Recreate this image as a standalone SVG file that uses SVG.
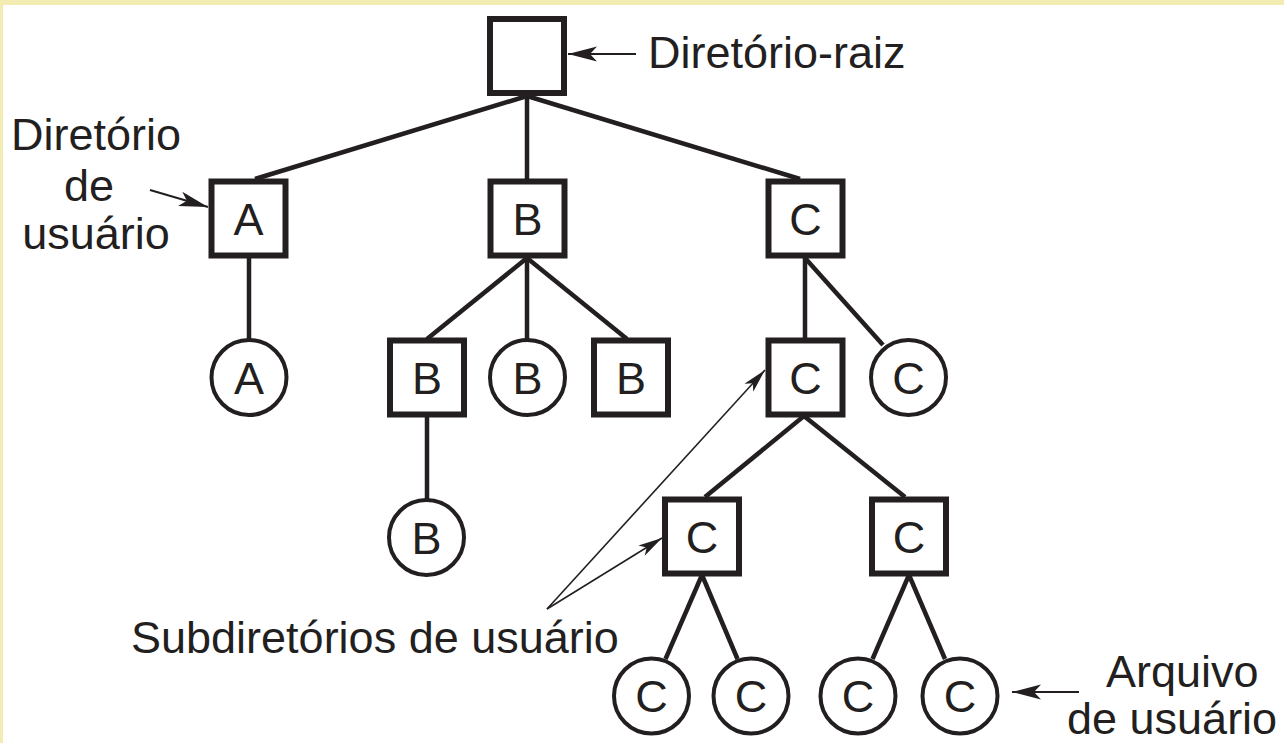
<svg xmlns="http://www.w3.org/2000/svg" width="1284" height="743" viewBox="0 0 1284 743">
<defs>
<style>
.sq{fill:#fff;stroke:#231f20;stroke-width:6}
.ci{fill:#fff;stroke:#231f20;stroke-width:4}
.lt{font-family:"Liberation Sans",Arial,sans-serif;font-size:45px;fill:#231f20;text-anchor:middle}
.lb{font-family:"Liberation Sans",Arial,sans-serif;font-size:45px;fill:#231f20}
.ed{stroke:#231f20;stroke-width:4.5;fill:none;stroke-linecap:butt}
.ar{stroke:#231f20;stroke-width:2;fill:none}
.ar2{stroke:#231f20;stroke-width:1.6;fill:none}
</style>
<marker id="ah" markerUnits="userSpaceOnUse" markerWidth="40" markerHeight="20" viewBox="-30 -10 32 20" refX="0" refY="0" orient="auto">
<path d="M0,0 L-29,-7.5 L-22,0 L-29,7.5 Z" fill="#231f20"/>
</marker>
<marker id="ah2" markerUnits="userSpaceOnUse" markerWidth="40" markerHeight="20" viewBox="-30 -10 32 20" refX="0" refY="0" orient="auto">
<path d="M0,0 L-24,-6 L-18,0 L-24,6 Z" fill="#231f20"/>
</marker>
</defs>
<rect x="0" y="0" width="1284" height="743" fill="#fff"/>
<rect x="0" y="0" width="1284" height="5" fill="#f2ecb3"/>
<rect x="0" y="0" width="3" height="743" fill="#f2ecb3"/>

<g id="connectors">
<line class="ed" x1="527" y1="96" x2="255" y2="179"/>
<line class="ed" x1="527" y1="96" x2="527" y2="179"/>
<line class="ed" x1="527" y1="96" x2="800" y2="179"/>
<line class="ed" x1="249" y1="258" x2="249" y2="339"/>
<line class="ed" x1="527" y1="258" x2="427" y2="339"/>
<line class="ed" x1="527" y1="258" x2="527" y2="339"/>
<line class="ed" x1="527" y1="258" x2="627" y2="339"/>
<line class="ed" x1="427" y1="416" x2="427" y2="499"/>
<line class="ed" x1="805" y1="258" x2="805" y2="339"/>
<line class="ed" x1="805" y1="258" x2="883" y2="345"/>
<line class="ed" x1="804" y1="416" x2="705" y2="497"/>
<line class="ed" x1="804" y1="416" x2="905" y2="497"/>
<line class="ed" x1="702" y1="575" x2="665.5" y2="659"/>
<line class="ed" x1="702" y1="575" x2="737.5" y2="659"/>
<line class="ed" x1="909" y1="575" x2="872.5" y2="659"/>
<line class="ed" x1="909" y1="575" x2="945" y2="659"/>
<line class="ar" x1="636" y1="54" x2="568" y2="54" marker-end="url(#ah)"/>
<line class="ar" x1="150" y1="190" x2="208" y2="207" marker-end="url(#ah)"/>
<line class="ar" x1="1079" y1="692" x2="1012" y2="692" marker-end="url(#ah)"/>
<line class="ar2" x1="547" y1="609" x2="765" y2="370" marker-end="url(#ah2)"/>
<line class="ar2" x1="547" y1="609" x2="662" y2="538" marker-end="url(#ah2)"/>
</g>

<g id="root"><rect class="sq" x="490" y="19" width="74" height="74"/></g>
<g id="dirA"><rect class="sq" x="211.5" y="181.5" width="74" height="74"/><text class="lt" x="248.5" y="234.5">A</text></g>
<g id="dirB"><rect class="sq" x="490.5" y="181.5" width="74" height="74"/><text class="lt" x="527.5" y="234.5">B</text></g>
<g id="dirC"><rect class="sq" x="768.5" y="181.5" width="74" height="74"/><text class="lt" x="805.5" y="234.5">C</text></g>

<g id="fileA"><circle class="ci" cx="249" cy="377.5" r="37.5"/><text class="lt" x="249" y="393.5">A</text></g>
<g id="subB1"><rect class="sq" x="390" y="340.5" width="74" height="74"/><text class="lt" x="427" y="393.5">B</text></g>
<g id="fileB1"><circle class="ci" cx="527.5" cy="377.5" r="37.5"/><text class="lt" x="527.5" y="393.5">B</text></g>
<g id="subB2"><rect class="sq" x="594" y="340.5" width="74" height="74"/><text class="lt" x="631" y="393.5">B</text></g>
<g id="fileB2"><circle class="ci" cx="426.5" cy="537.5" r="37.5"/><text class="lt" x="426.5" y="553.5">B</text></g>
<g id="subC1"><rect class="sq" x="768.5" y="340.5" width="74" height="74"/><text class="lt" x="805.5" y="393.5">C</text></g>
<g id="fileC1"><circle class="ci" cx="908.5" cy="377.5" r="37.5"/><text class="lt" x="908.5" y="393.5">C</text></g>
<g id="subC2"><rect class="sq" x="665" y="499.5" width="74" height="74"/><text class="lt" x="702" y="552.5">C</text></g>
<g id="subC3"><rect class="sq" x="872" y="499.5" width="74" height="74"/><text class="lt" x="909" y="552.5">C</text></g>
<g id="fileC2"><circle class="ci" cx="651.5" cy="696" r="37.5"/><text class="lt" x="651.5" y="712">C</text></g>
<g id="fileC3"><circle class="ci" cx="751" cy="696" r="37.5"/><text class="lt" x="751" y="712">C</text></g>
<g id="fileC4"><circle class="ci" cx="858" cy="696" r="37.5"/><text class="lt" x="858" y="712">C</text></g>
<g id="fileC5"><circle class="ci" cx="960" cy="696" r="37.5"/><text class="lt" x="960" y="712">C</text></g>

<g id="labels">
<text class="lb" x="648" y="68">Diretório-raiz</text>
<text class="lt" x="96" y="150">Diretório</text>
<text class="lt" x="89" y="201">de</text>
<text class="lt" x="96" y="249">usuário</text>
<text class="lb" x="131" y="653">Subdiretórios de usuário</text>
<text class="lb" x="1106" y="687">Arquivo</text>
<text class="lb" x="1067" y="734">de usuário</text>
</g>
</svg>
